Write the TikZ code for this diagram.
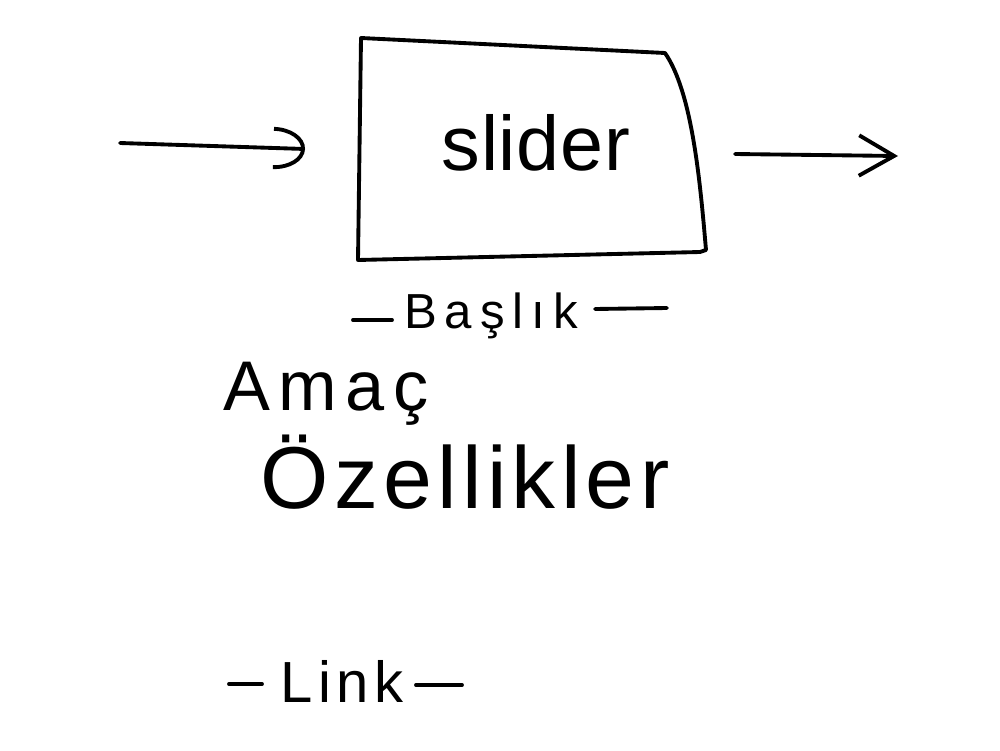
\documentclass[tikz,border=0pt]{standalone}
\usepackage{fontspec}
\setmainfont{Liberation Sans}
\usetikzlibrary{arrows.meta}
\begin{document}
\begin{tikzpicture}[x=0.2mm,y=-0.2mm,
  ink/.style={line width=2.2pt,line cap=round,line join=round,black},
  lbl/.style={inner sep=0pt,anchor=base},
  dashline/.style={ink}]
\useasboundingbox (0,0) rectangle (1000,750);
% slider box
\draw[ink] (361,38) -- (665,53) .. controls (692,92) and (700,180) .. (706,250) -- (700,252) -- (358,260) -- cycle;
\node[lbl,font=\fontsize{44}{50}\selectfont\addfontfeature{LetterSpace=1}] (slider) at (536,170) {slider};
% arrows
\coordinate (inA) at (120,143);
\coordinate (inB) at (305,149);
\coordinate (outA) at (735,154);
\coordinate (outB) at (898,156);
\draw[ink,-{Arc Barb[length=18pt,width=24pt,line width=2.2pt]}] (inA) -- (inB);
\draw[ink,-{Straight Barb[length=20pt,width=23pt,line width=2.2pt]}] (outA) -- (outB);
% Baslik
\node[lbl,font=\fontsize{28}{32}\selectfont\addfontfeature{LetterSpace=16}] (baslik) at (491,328) {Başlık};
\coordinate (b1) at (353,320); \coordinate (b2) at (392,320);
\coordinate (b3) at (595,309); \coordinate (b4) at (667,308);
\draw[dashline] (b1) -- (b2);
\draw[dashline] (b3) -- (b4);
% Amac
\node[lbl,font=\fontsize{40}{46}\selectfont\addfontfeature{LetterSpace=12}] (amac) at (326,410) {Amaç};
% Ozellikler
\node[lbl,font=\fontsize{50}{56}\selectfont\addfontfeature{LetterSpace=6}] (ozellikler) at (465,508) {Özellikler};
% Link
\node[lbl,font=\fontsize{33}{38}\selectfont\addfontfeature{LetterSpace=10}] (link) at (342,702) {Link};
\coordinate (l1) at (229,684); \coordinate (l2) at (262,684);
\coordinate (l3) at (416,685); \coordinate (l4) at (462,685);
\draw[dashline] (l1) -- (l2);
\draw[dashline] (l3) -- (l4);
\end{tikzpicture}
\end{document}
